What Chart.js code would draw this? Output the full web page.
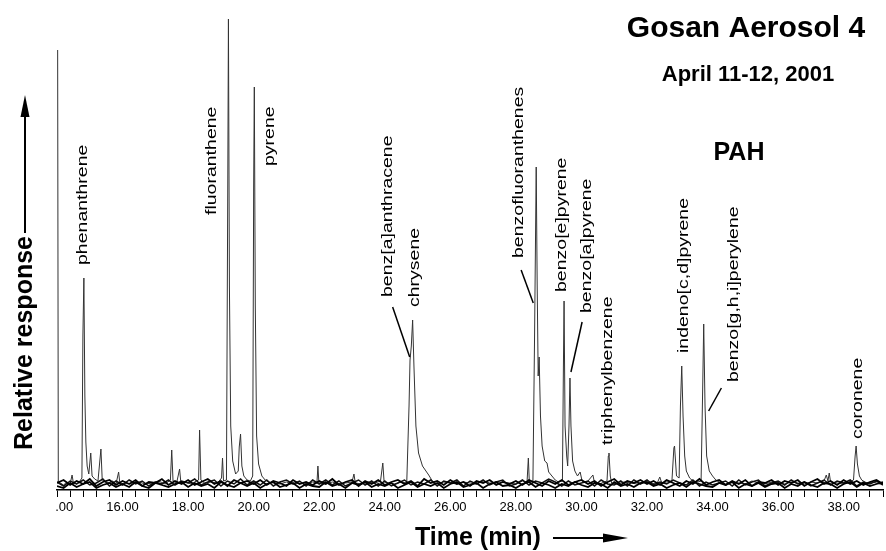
<!DOCTYPE html>
<html>
<head>
<meta charset="utf-8">
<script src="https://cdn.jsdelivr.net/npm/chart.js@4"></script>
<style>
  html, body { margin: 0; padding: 0; background: #fff; }
  #wrap { width: 886px; height: 551px; }
</style>
</head>
<body>
<div id="wrap"><canvas id="gcms"></canvas></div>
<script>
// main ion trace, [time (min), response]
const mainTrace = [
  [14.02, 436], [14.04, 4], [14.1, 3], [14.2, 1], [14.3, 4], [14.4, 2], [14.46, 11], [14.5, 3], [14.6, 2], [14.7, 5],
  [14.76, 8], [14.79, 150], [14.82, 208], [14.85, 90], [14.88, 44], [14.92, 20], [14.97, 12], [15.03, 33], [15.07, 10],
  [15.15, 7], [15.25, 5], [15.34, 37], [15.38, 6], [15.5, 4], [15.6, 3], [15.7, 5], [15.8, 2], [15.88, 14], [15.92, 2],
  [16.1, 3], [16.3, 2], [16.5, 4], [16.7, 2], [16.9, 3], [17.1, 5], [17.3, 2], [17.46, 6], [17.5, 36], [17.54, 5],
  [17.65, 3], [17.74, 17], [17.78, 3], [17.9, 4], [18.1, 2], [18.25, 5], [18.32, 6], [18.35, 56], [18.39, 6], [18.5, 3],
  [18.7, 4], [18.9, 3], [19.02, 8], [19.05, 28], [19.08, 5], [19.17, 6], [19.21, 300], [19.23, 467], [19.26, 200],
  [19.3, 60], [19.36, 25], [19.45, 12], [19.53, 15], [19.56, 39], [19.6, 52], [19.64, 20], [19.7, 10], [19.8, 6],
  [19.9, 5], [19.97, 10], [20.0, 300], [20.02, 399], [20.05, 180], [20.09, 50], [20.15, 22], [20.25, 10], [20.35, 6],
  [20.45, 4], [20.6, 3], [20.8, 2], [21.0, 4], [21.2, 2], [21.4, 3], [21.6, 2], [21.8, 4], [21.93, 3], [21.96, 20],
  [21.99, 3], [22.2, 2], [22.4, 4], [22.6, 2], [22.8, 3], [23.0, 4], [23.06, 12], [23.1, 3], [23.3, 2], [23.5, 4],
  [23.7, 3], [23.87, 5], [23.94, 23], [23.98, 4], [24.1, 3], [24.3, 2], [24.5, 4], [24.67, 3], [24.74, 80], [24.77, 126],
  [24.81, 140], [24.85, 166], [24.89, 120], [24.95, 60], [25.03, 33], [25.15, 20], [25.34, 11], [25.45, 5], [25.6, 2],
  [25.8, 4], [26.0, 3], [26.2, 2], [26.4, 4], [26.6, 3], [26.8, 2], [27.0, 5], [27.2, 3], [27.4, 2], [27.6, 4], [27.8, 3],
  [28.0, 2], [28.2, 5], [28.34, 4], [28.38, 28], [28.41, 4], [28.52, 5], [28.57, 150], [28.62, 319], [28.65, 200],
  [28.68, 110], [28.71, 129], [28.75, 70], [28.8, 40], [28.88, 25], [28.95, 23], [29.0, 14], [29.1, 10], [29.2, 6],
  [29.3, 4], [29.42, 5], [29.45, 120], [29.47, 185], [29.5, 60], [29.55, 30], [29.58, 20], [29.62, 60], [29.65, 108],
  [29.68, 60], [29.73, 25], [29.8, 15], [29.88, 10], [29.96, 14], [30.02, 5], [30.15, 3], [30.35, 11], [30.4, 3],
  [30.55, 2], [30.7, 4], [30.78, 5], [30.82, 30], [30.84, 33], [30.88, 10], [30.92, 3], [31.1, 2], [31.3, 4], [31.5, 3],
  [31.7, 2], [31.9, 4], [32.1, 3], [32.3, 2], [32.39, 9], [32.45, 3], [32.6, 4], [32.76, 5], [32.82, 38], [32.84, 40],
  [32.9, 10], [32.98, 8], [33.02, 80], [33.06, 120], [33.1, 70], [33.15, 30], [33.2, 15], [33.3, 8], [33.4, 5],
  [33.55, 4], [33.65, 5], [33.7, 100], [33.73, 162], [33.77, 80], [33.82, 30], [33.9, 15], [34.0, 10], [34.1, 6],
  [34.2, 4], [34.4, 2], [34.6, 4], [34.8, 3], [35.0, 2], [35.2, 5], [35.4, 3], [35.6, 2], [35.8, 4], [36.0, 3], [36.2, 2],
  [36.4, 4], [36.6, 3], [36.8, 2], [37.0, 4], [37.2, 3], [37.4, 5], [37.47, 11], [37.52, 5], [37.56, 13], [37.6, 4],
  [37.8, 3], [38.0, 2], [38.2, 4], [38.3, 6], [38.35, 30], [38.38, 40], [38.42, 22], [38.48, 10], [38.55, 6], [38.7, 3],
  [38.9, 4], [39.1, 2], [39.2, 3]
];

// other ion traces: baseline noise
const noiseTimes = [
  14.0, 14.2, 14.4, 14.6, 14.8, 15.0, 15.2, 15.4, 15.6, 15.8,
  16.0, 16.2, 16.4, 16.6, 16.8, 17.0, 17.2, 17.4, 17.6, 17.8,
  18.0, 18.2, 18.4, 18.6, 18.8, 19.0, 19.2, 19.4, 19.6, 19.8,
  20.0, 20.2, 20.4, 20.6, 20.8, 21.0, 21.2, 21.4, 21.6, 21.8,
  22.0, 22.2, 22.4, 22.6, 22.8, 23.0, 23.2, 23.4, 23.6, 23.8,
  24.0, 24.2, 24.4, 24.6, 24.8, 25.0, 25.2, 25.4, 25.6, 25.8,
  26.0, 26.2, 26.4, 26.6, 26.8, 27.0, 27.2, 27.4, 27.6, 27.8,
  28.0, 28.2, 28.4, 28.6, 28.8, 29.0, 29.2, 29.4, 29.6, 29.8,
  30.0, 30.2, 30.4, 30.6, 30.8, 31.0, 31.2, 31.4, 31.6, 31.8,
  32.0, 32.2, 32.4, 32.6, 32.8, 33.0, 33.2, 33.4, 33.6, 33.8,
  34.0, 34.2, 34.4, 34.6, 34.8, 35.0, 35.2, 35.4, 35.6, 35.8,
  36.0, 36.2, 36.4, 36.6, 36.8, 37.0, 37.2, 37.4, 37.6, 37.8,
  38.0, 38.2, 38.4, 38.6, 38.8, 39.0, 39.2
];
const noiseA = [
  3, 6, 1, 5, 2, 7, 0, 4, 6, 1,
  5, 2, 6, 0, 4, 3, 7, 1, 5, 2,
  6, 1, 4, 7, 2, 5, 0, 6, 3, 5,
  2, 6, 1, 5, 3, 0, 6, 2, 4, 1,
  5, 2, 7, 1, 4, 6, 0, 5, 2, 6,
  1, 4, 6, 2, 5, 0, 7, 3, 5, 1,
  6, 2, 4, 0, 5, 3, 6, 1, 4, 2,
  5, 1, 6, 3, 0, 5, 2, 6, 1, 4,
  6, 2, 5, 0, 4, 7, 1, 5, 3, 6,
  2, 5, 1, 6, 3, 0, 5, 2, 7, 1,
  4, 6, 1, 5, 2, 6, 0, 4, 3, 6,
  1, 5, 3, 6, 0, 4, 7, 2, 5, 1,
  6, 2, 5, 1, 4, 6, 2
];
const noiseB = [
  0, -2, 3, -1, 2, 4, -2, 1, 3, -1,
  2, -1, 4, 0, -2, 3, 1, -1, 2, 4,
  -1, 3, 0, 2, -2, 4, 1, -1, 3, 0,
  3, -2, 2, 4, -1, 1, 3, -2, 2, 0,
  -1, 4, 0, 2, -2, 3, 1, 4, -1, 2,
  0, 3, -2, 1, 4, -1, 2, 0, 3, -2,
  2, 4, -1, 1, 3, -2, 2, 4, 0, 1,
  -2, 2, 4, -1, 3, 1, -2, 2, 0, 4,
  1, -1, 3, 2, -2, 4, 0, 2, -1, 3,
  4, 0, 2, -2, 1, 3, -1, 4, 2, 0,
  -1, 3, 1, 4, -2, 2, 0, 3, -1, 2,
  3, -2, 2, 0, 4, 1, -1, 3, 2, -2,
  2, 4, -1, 3, 0, 2, 4
];
const noiseC = [
  4, 0, 5, 2, 6, 1, 3, 7, 0, 5,
  1, 6, 2, 5, 0, 4, 2, 6, 1, 5,
  3, 7, 1, 4, 6, 0, 5, 2, 7, 1,
  5, 1, 6, 0, 4, 6, 2, 5, 0, 6,
  2, 6, 1, 5, 0, 3, 6, 1, 5, 0,
  5, 0, 3, 6, 1, 4, 2, 6, 0, 5,
  3, 6, 0, 5, 2, 6, 1, 4, 6, 0,
  2, 6, 1, 5, 3, 7, 4, 0, 5, 1,
  3, 5, 0, 6, 2, 1, 5, 0, 6, 2,
  6, 1, 4, 2, 6, 3, 1, 6, 0, 4,
  1, 3, 5, 0, 6, 1, 4, 6, 0, 3,
  5, 1, 6, 2, 4, 0, 3, 6, 1, 5,
  3, 6, 0, 4, 2, 5, 1
];

// compound labels: name, time, response where the rotated text starts
const peakNames = ['phenanthrene', 'fluoranthene', 'pyrene', 'benz[a]anthracene', 'chrysene',
  'benzofluoranthenes', 'benzo[e]pyrene', 'benzo[a]pyrene', 'triphenylbenzene',
  'indeno[c,d]pyrene', 'benzo[g,h,i]perylene', 'coronene'];
const labelTimes = [14.79, 18.71, 20.50, 24.09, 24.91, 28.10, 29.41, 30.17, 30.81, 33.12, 34.64, 38.44];
const labelLevels = [221, 271, 320, 189, 179, 228, 194, 173, 41, 133, 104, 47];

// leader lines [t1, v1, t2, v2]
const leaders = [
  [24.24, 179, 24.76, 129],
  [28.16, 216, 28.53, 183],
  [30.02, 164, 29.68, 114],
  [34.27, 98, 33.88, 75]
];

const FONT = '"Liberation Sans", Arial, Helvetica, sans-serif';

const clipLeft = {
  id: 'clipLeft',
  beforeDraw(chart) {
    const ctx = chart.ctx;
    ctx.save();
    ctx.beginPath();
    ctx.rect(chart.chartArea.left - 1, 0, chart.width, chart.height);
    ctx.clip();
  },
  afterDraw(chart) {
    const ctx = chart.ctx;
    ctx.restore();
    const x = chart.scales.x, y = chart.scales.y;

    ctx.save();
    ctx.fillStyle = '#000';
    ctx.strokeStyle = '#000';

    // titles
    ctx.textAlign = 'center';
    ctx.textBaseline = 'alphabetic';
    ctx.font = 'bold 30px ' + FONT;
    ctx.fillText('Gosan Aerosol 4', 746, 37);
    ctx.font = 'bold 22px ' + FONT;
    ctx.fillText('April 11-12, 2001', 748, 81);
    ctx.font = 'bold 25px ' + FONT;
    ctx.fillText('PAH', 739, 160);

    // x title + arrow
    ctx.textAlign = 'left';
    ctx.fillText('Time (min)', 415, 545);
    ctx.lineWidth = 2;
    ctx.beginPath();
    ctx.moveTo(553, 538); ctx.lineTo(606, 538);
    ctx.stroke();
    ctx.beginPath();
    ctx.moveTo(603, 533.5); ctx.lineTo(628, 538); ctx.lineTo(603, 542.5);
    ctx.closePath(); ctx.fill();

    // y title + arrow
    ctx.save();
    ctx.translate(32, 450);
    ctx.rotate(-Math.PI / 2);
    ctx.fillText('Relative response', 0, 0);
    ctx.restore();
    ctx.beginPath();
    ctx.moveTo(25, 233); ctx.lineTo(25, 112);
    ctx.stroke();
    ctx.beginPath();
    ctx.moveTo(20.5, 117); ctx.lineTo(25, 95); ctx.lineTo(29.5, 117);
    ctx.closePath(); ctx.fill();

    // compound labels
    ctx.font = '15px ' + FONT;
    ctx.textBaseline = 'middle';
    peakNames.forEach((name, i) => {
      ctx.save();
      ctx.translate(x.getPixelForValue(labelTimes[i]), y.getPixelForValue(labelLevels[i]));
      ctx.rotate(-Math.PI / 2);
      ctx.scale(1.3, 1);
      ctx.fillText(name, 0, 0);
      ctx.restore();
    });

    ctx.lineWidth = 1.5;
    leaders.forEach(l => {
      ctx.beginPath();
      ctx.moveTo(x.getPixelForValue(l[0]), y.getPixelForValue(l[1]));
      ctx.lineTo(x.getPixelForValue(l[2]), y.getPixelForValue(l[3]));
      ctx.stroke();
    });
    ctx.restore();
  }
};

const noiseData = arr => noiseTimes.map((t, i) => ({ x: t, y: arr[i] }));

new Chart(document.getElementById('gcms'), {
  type: 'line',
  data: {
    datasets: [
      { data: noiseData(noiseA), borderColor: '#000', borderWidth: 1.8, pointRadius: 0 },
      { data: noiseData(noiseB), borderColor: '#000', borderWidth: 1.8, pointRadius: 0 },
      { data: noiseData(noiseC), borderColor: '#111', borderWidth: 1.5, pointRadius: 0 },
      { data: mainTrace.map(p => ({ x: p[0], y: p[1] })), borderColor: '#333', borderWidth: 1, pointRadius: 0 }
    ]
  },
  options: {
    responsive: true,
    maintainAspectRatio: false,
    animation: false,
    layout: { padding: { left: 57, right: 0, top: 15, bottom: 0 } },
    plugins: { legend: { display: false }, tooltip: { enabled: false } },
    scales: {
      x: {
        type: 'linear',
        min: 14,
        max: 39.2,
        afterFit: s => { s.height = 61; },
        border: { display: true, color: '#000', width: 1.5 },
        grid: { drawOnChartArea: false, drawTicks: true, tickLength: 7, tickColor: '#000', tickWidth: 1 },
        ticks: {
          stepSize: 0.4,
          autoSkip: false,
          maxRotation: 0,
          padding: 3,
          color: '#000',
          font: { family: FONT, size: 13 },
          callback: v => {
            const r = Math.round(v);
            return (Math.abs(v - r) < 1e-6 && r % 2 === 0) ? r.toFixed(2) : '';
          }
        }
      },
      y: { display: false, min: -4, max: 471 }
    }
  },
  plugins: [clipLeft]
});
</script>
</body>
</html>
